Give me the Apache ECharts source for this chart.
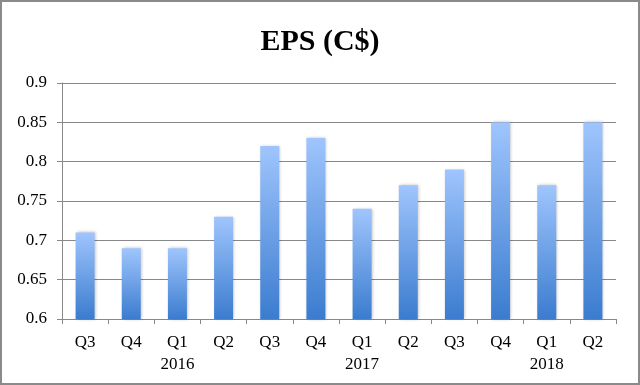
<!DOCTYPE html>
<html><head><meta charset="utf-8">
<script src="https://cdn.jsdelivr.net/npm/echarts@6/dist/echarts.min.js"></script>
<style>html,body{margin:0;padding:0;background:#fff}#c{width:640px;height:385px}</style>
</head><body><div id="c"></div>
<script>
const quarters = ['Q3','Q4','Q1','Q2','Q3','Q4','Q1','Q2','Q3','Q4','Q1','Q2'];
const years = ['','','2016','','','','2017','','','','2018',''];
const eps = [0.71,0.69,0.69,0.73,0.82,0.83,0.74,0.77,0.79,0.85,0.77,0.85];
const yTicks = [0.6,0.65,0.7,0.75,0.8,0.85,0.9];

const chart = echarts.init(document.getElementById('c'));
const font = '"Liberation Serif", "DejaVu Serif", serif';
chart.setOption({
  animation:false,
  title:{text:'EPS (C$)',left:'center',top:22,textStyle:{fontFamily:font,fontWeight:'bold',fontSize:30,color:'#000'}},
  graphic:[{type:'rect',shape:{x:1,y:1,width:638,height:383},style:{fill:'none',stroke:'#8a8a8a',lineWidth:2},silent:true}],
  grid:{left:62,right:24,top:83,bottom:66},
  xAxis:{type:'category',data:quarters.map((q,i)=>q+'\n'+years[i]),
    axisLine:{lineStyle:{color:'#888',width:1}},
    axisTick:{show:true,length:5,lineStyle:{color:'#888'}},
    axisLabel:{fontFamily:font,fontSize:17,color:'#000',margin:13,lineHeight:22}},
  yAxis:{type:'value',min:0.6,max:0.9,interval:0.05,
    axisLine:{show:true,lineStyle:{color:'#888'}},
    axisTick:{show:true,length:5,lineStyle:{color:'#888'}},
    splitLine:{lineStyle:{color:'#888',width:1}},
    axisLabel:{fontFamily:font,fontSize:17,color:'#000',margin:15,
      formatter:v=>{const t=yTicks.find(x=>Math.abs(x-v)<1e-6);return t===undefined?'':String(t);}}},
  series:[{type:'bar',data:eps,barWidth:19,
    itemStyle:{color:new echarts.graphic.LinearGradient(0,0,0,1,[{offset:0,color:'#9fc5fd'},{offset:1,color:'#3b7ccf'}]),
      shadowColor:'rgba(0,0,0,0.25)',shadowBlur:3,shadowOffsetX:1}}]
});
</script></body></html>
